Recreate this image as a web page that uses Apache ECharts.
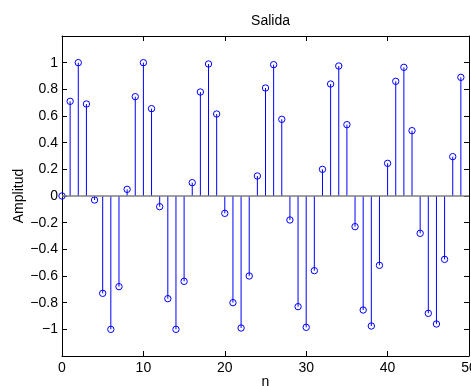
<!DOCTYPE html>
<html>
<head>
<meta charset="utf-8">
<script src="https://cdn.jsdelivr.net/npm/echarts@6/dist/echarts.min.js"></script>
<style>
  html, body { margin: 0; padding: 0; background: #fff; }
  #chart { width: 471px; height: 386px; }
</style>
</head>
<body>
<div id="chart"></div>
<script>
// Sample index n
const n = [0, 1, 2, 3, 4, 5, 6, 7, 8, 9,
           10, 11, 12, 13, 14, 15, 16, 17, 18, 19,
           20, 21, 22, 23, 24, 25, 26, 27, 28, 29,
           30, 31, 32, 33, 34, 35, 36, 37, 38, 39,
           40, 41, 42, 43, 44, 45, 46, 47, 48, 49];

// Output amplitude at each sample
const salida = [0.00, 0.71, 1.00, 0.69, -0.03, -0.73, -1.00, -0.68, 0.05, 0.745,
                1.00, 0.655, -0.08, -0.77, -1.00, -0.64, 0.10, 0.78, 0.99, 0.615,
                -0.13, -0.80, -0.99, -0.60, 0.15, 0.81, 0.985, 0.575, -0.18, -0.83,
                -0.985, -0.56, 0.20, 0.84, 0.975, 0.535, -0.23, -0.855, -0.975, -0.52,
                0.245, 0.86, 0.965, 0.49, -0.28, -0.88, -0.96, -0.475, 0.295, 0.89];

// Horizontal extent of the zero baseline
const baselineX = [0, 50];

const FONT = 'Liberation Sans, Arial, Helvetica, sans-serif';
const fmt = v => {
  const r = Math.round(v * 10) / 10;
  if (Math.abs(r) > 1.05) return '';
  return String(r).replace('-', '\u2212');
};

const axisCommon = {
  axisLine: { show: true, onZero: false, lineStyle: { color: '#000', width: 1 } },
  axisTick: { show: true, inside: true, length: 5, lineStyle: { color: '#000', width: 1 } },
  splitLine: { show: false }
};

const chart = echarts.init(document.getElementById('chart'), null, { renderer: 'canvas' });

chart.setOption({
  animation: false,
  backgroundColor: '#fff',
  title: {
    text: 'Salida',
    left: 265.5,
    textAlign: 'center',
    top: 9,
    textStyle: { fontFamily: FONT, fontSize: 14, fontWeight: 'normal', color: '#000' }
  },
  grid: { left: 62, right: 2, top: 36, bottom: 30, containLabel: false, outerBoundsMode: 'none' },
  xAxis: [
    Object.assign({
      type: 'value', min: 0, max: 50, interval: 10, position: 'bottom',
      name: 'n', nameLocation: 'middle', nameGap: 19, nameMoveOverlap: false,
      nameTextStyle: { fontFamily: FONT, fontSize: 14, color: '#000' },
      axisLabel: { margin: 5, fontFamily: FONT, fontSize: 14, color: '#000' }
    }, axisCommon),
    Object.assign({
      type: 'value', min: 0, max: 50, interval: 10, position: 'top',
      axisLabel: { show: false }
    }, axisCommon)
  ],
  yAxis: [
    Object.assign({
      type: 'value', min: -1.2, max: 1.2, interval: 0.2, position: 'left',
      name: 'Amplitud', nameLocation: 'middle', nameGap: 36, nameRotate: 90, nameMoveOverlap: false,
      nameTextStyle: { fontFamily: FONT, fontSize: 14, color: '#000' },
      axisLabel: { margin: 4, fontFamily: FONT, fontSize: 14, color: '#000', formatter: fmt }
    }, axisCommon),
    Object.assign({
      type: 'value', min: -1.2, max: 1.2, interval: 0.2, position: 'right',
      axisLabel: { show: false }
    }, axisCommon)
  ],
  series: [
    {
      // stems with open circle heads
      type: 'custom',
      xAxisIndex: 0,
      yAxisIndex: 0,
      z: 2,
      data: n.map((x, i) => [x, salida[i]]),
      encode: { x: 0, y: 1 },
      renderItem: function (params, api) {
        const p = api.coord([api.value(0), api.value(1)]);
        const b = api.coord([api.value(0), 0]);
        return {
          type: 'group',
          children: [
            { type: 'line', shape: { x1: b[0], y1: b[1], x2: p[0], y2: p[1] },
              style: { stroke: '#0000ff', lineWidth: 1 } },
            { type: 'circle', shape: { cx: p[0], cy: p[1], r: 3.2 },
              style: { fill: null, stroke: '#0000ff', lineWidth: 1 } }
          ]
        };
      }
    },
    {
      // zero baseline
      type: 'line',
      xAxisIndex: 0,
      yAxisIndex: 0,
      z: 3,
      symbol: 'none',
      silent: true,
      data: baselineX.map(x => [x, 0]),
      lineStyle: { color: '#7f7f7f', width: 1.5 }
    }
  ]
});
</script>
</body>
</html>
